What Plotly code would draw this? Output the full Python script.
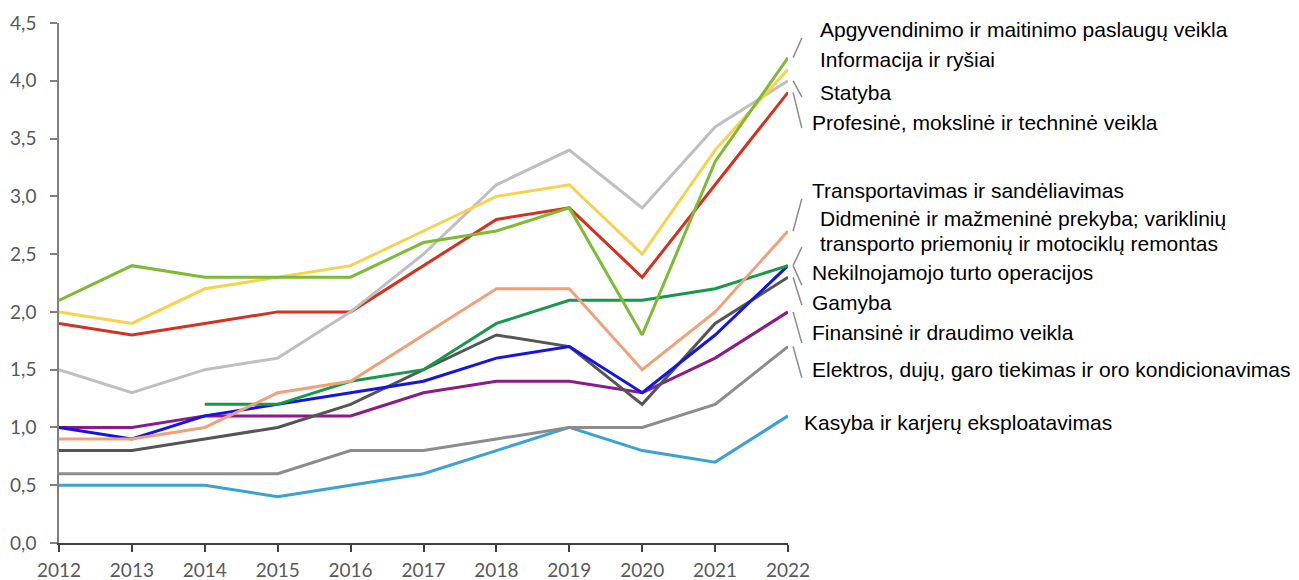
import plotly.graph_objects as go

years = [2012, 2013, 2014, 2015, 2016, 2017, 2018, 2019, 2020, 2021, 2022]

apgyvendinimo = [2.1, 2.4, 2.3, 2.3, 2.3, 2.6, 2.7, 2.9, 1.8, 3.3, 4.2]
informacija = [2.0, 1.9, 2.2, 2.3, 2.4, 2.7, 3.0, 3.1, 2.5, 3.4, 4.1]
statyba = [1.5, 1.3, 1.5, 1.6, 2.0, 2.5, 3.1, 3.4, 2.9, 3.6, 4.0]
profesine = [1.9, 1.8, 1.9, 2.0, 2.0, 2.4, 2.8, 2.9, 2.3, 3.1, 3.9]
transportavimas = [0.9, 0.9, 1.0, 1.3, 1.4, 1.8, 2.2, 2.2, 1.5, 2.0, 2.7]
didmenine = [None, None, 1.2, 1.2, 1.4, 1.5, 1.9, 2.1, 2.1, 2.2, 2.4]
nekilnojamojo = [1.0, 0.9, 1.1, 1.2, 1.3, 1.4, 1.6, 1.7, 1.3, 1.8, 2.4]
gamyba = [0.8, 0.8, 0.9, 1.0, 1.2, 1.5, 1.8, 1.7, 1.2, 1.9, 2.3]
finansine = [1.0, 1.0, 1.1, 1.1, 1.1, 1.3, 1.4, 1.4, 1.3, 1.6, 2.0]
elektros = [0.6, 0.6, 0.6, 0.6, 0.8, 0.8, 0.9, 1.0, 1.0, 1.2, 1.7]
kasyba = [0.5, 0.5, 0.5, 0.4, 0.5, 0.6, 0.8, 1.0, 0.8, 0.7, 1.1]

names = [
    "Apgyvendinimo ir maitinimo paslaugų veikla",
    "Informacija ir ryšiai",
    "Statyba",
    "Profesinė, mokslinė ir techninė veikla",
    "Transportavimas ir sandėliavimas",
    "Didmeninė ir mažmeninė prekyba; variklinių<br>transporto priemonių ir motociklų remontas",
    "Nekilnojamojo turto operacijos",
    "Gamyba",
    "Finansinė ir draudimo veikla",
    "Elektros, dujų, garo tiekimas ir oro kondicionavimas",
    "Kasyba ir karjerų eksploatavimas",
]
series = [apgyvendinimo, informacija, statyba, profesine, transportavimas,
          didmenine, nekilnojamojo, gamyba, finansine, elektros, kasyba]
colors = ["#7DBB33", "#F7D24E", "#BFBFBF", "#D7301F", "#EFA27A",
          "#17994A", "#1414E6", "#555555", "#8B1A8B", "#8C8C8C", "#3AA3D3"]

# label placement (y in data units, x offset in years past 2022) and leader line ends
label_y = [4.44, 4.18, 3.90, 3.64, 3.05, 2.70, 2.34, 2.08, 1.82, 1.50, 1.04]
label_dx = [0.41, 0.41, 0.41, 0.30, 0.30, 0.41, 0.30, 0.30, 0.30, 0.30, 0.19]
leader_y = [4.37, None, 3.86, 3.59, 2.98, 2.56, 2.23, 2.06, 1.73, 1.43, None]
line_gap = 0.215  # spacing between wrapped label lines, data units

x_min, x_max = years[0], years[-1]
y_max = 4.5


def px_x(v):
    return (v - x_min) / (x_max - x_min)


def px_y(v):
    return v / y_max


fig = go.Figure()

# draw back to front so the upper series sit on top
for name, vals, col in reversed(list(zip(names, series, colors))):
    fig.add_trace(go.Scatter(x=years, y=vals, mode="lines", name=name.replace("<br>", " "),
                             line=dict(color=col, width=3), showlegend=False))

for name, vals, ly, dx, ldy in zip(names, series, label_y, label_dx, leader_y):
    parts = name.split("<br>")
    top = ly + line_gap * (len(parts) - 1) / 2
    for i, part in enumerate(parts):
        fig.add_annotation(x=px_x(x_max + dx), y=px_y(top - i * line_gap),
                           xref="paper", yref="paper", text=part,
                           showarrow=False, xanchor="left", yanchor="middle", align="left",
                           font=dict(family="Liberation Sans, Arial", size=21, color="#000000"))
    if ldy is not None:
        fig.add_shape(type="line", xref="paper", yref="paper",
                      x0=px_x(x_max + 0.07), y0=px_y(vals[-1]),
                      x1=px_x(x_max + 0.19), y1=px_y(ldy),
                      line=dict(color="#8C8C8C", width=1.5))

# the page body keeps an 8px margin, so the margins are pulled in by that much
fig.update_layout(
    width=1299, height=580,
    margin=dict(l=51, r=519, t=15, b=45),
    plot_bgcolor="white", paper_bgcolor="white",
    separators=", ",
    font=dict(family="Lato, Open Sans, sans-serif", size=19, color="#595959"),
)
fig.update_xaxes(range=[x_min, x_max], tickvals=years, showgrid=False, zeroline=False,
                 automargin=False, ticklabelstandoff=2,
                 showline=True, linecolor="#404040", linewidth=1.5,
                 ticks="outside", ticklen=7, tickcolor="#404040", tickwidth=1.5)
fig.update_yaxes(range=[0, y_max], dtick=0.5, tickformat=".1f", showgrid=False, zeroline=False,
                 automargin=False, ticklabelstandoff=10,
                 showline=True, linecolor="#7F7F7F", linewidth=1.5,
                 ticks="outside", ticklen=7, tickcolor="#7F7F7F", tickwidth=1.5)

fig.write_html("out.html")
